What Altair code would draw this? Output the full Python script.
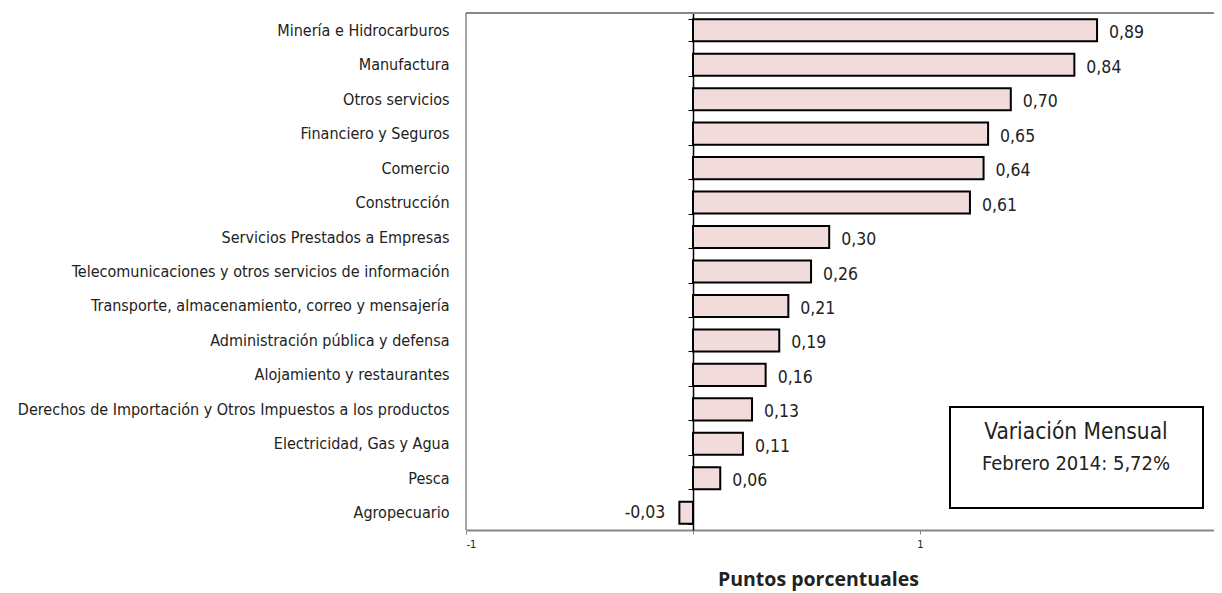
import altair as alt
import pandas as pd

categories = [
    "Minería e Hidrocarburos",
    "Manufactura",
    "Otros servicios",
    "Financiero y Seguros",
    "Comercio",
    "Construcción",
    "Servicios Prestados a Empresas",
    "Telecomunicaciones y otros servicios de información",
    "Transporte, almacenamiento, correo y mensajería",
    "Administración pública y defensa",
    "Alojamiento y restaurantes",
    "Derechos de Importación y Otros Impuestos a los productos",
    "Electricidad, Gas y Agua",
    "Pesca",
    "Agropecuario",
]
values = [0.89, 0.84, 0.70, 0.65, 0.64, 0.61, 0.30, 0.26, 0.21, 0.19, 0.16, 0.13, 0.11, 0.06, -0.03]

x_ticks = [-0.5, 0.0, 0.5]
x_tick_labels = ["-1", "", "1"]

box_title = "Variación Mensual"
box_subtitle = "Febrero 2014: 5,72%"
x_title = "Puntos porcentuales"

FONT = "Liberation Sans Narrow, Arial Narrow, DejaVu Sans Condensed, sans-serif"
W, H = 748, 517

df = pd.DataFrame({"sector": categories, "valor": values})

label_expr = " : ".join(
    f"datum.value == {v} ? '{l}'" for v, l in zip(x_ticks, x_tick_labels)
) + " : ''"

x_enc = alt.X(
    "valor:Q",
    scale=alt.Scale(domain=[-0.5, -0.5 + W / 454.0], nice=False, zero=False),
    axis=alt.Axis(
        values=x_ticks,
        labelExpr=label_expr,
        grid=False,
        domainColor="#868686",
        domainWidth=2,
        tickColor="#868686",
        tickSize=4,
        labelFont=FONT,
        labelFontSize=11,
        labelColor="#222222",
        labelPadding=4,
        title=x_title,
        titleFont="Open Sans",
        titleFontWeight="bold",
        titleFontSize=19.5,
        titleColor="#222222",
        titleX=352,
        titleY=55,
        titleAlign="center",
        titleBaseline="alphabetic",
    ),
)

y_enc = alt.Y(
    "sector:N",
    sort=categories,
    scale=alt.Scale(paddingInner=0.36, paddingOuter=0.18),
    axis=alt.Axis(
        title=None,
        offset=-227,
        tickBand="extent",
        domainColor="#000000",
        domainWidth=1.5,
        tickColor="#000000",
        tickSize=5,
        labelPadding=239,
        labelFont=FONT,
        labelFontSize=16,
        labelColor="#222222",
        labelLimit=600,
    ),
)

base = alt.Chart(df)

bars = base.mark_bar(fill="#F2DCDB", stroke="#000000", strokeWidth=2).encode(x=x_enc, y=y_enc)

txt_expr = "replace(replace(format(datum.valor, '.2f'), '.', ','), '\u2212', '-')"

pos_labels = (
    base.transform_filter("datum.valor >= 0")
    .transform_calculate(lbl=txt_expr)
    .mark_text(align="left", baseline="middle", dx=12, dy=3, font=FONT, fontSize=17.5, color="#222222")
    .encode(x="valor:Q", y=alt.Y("sector:N", sort=categories), text="lbl:N")
)
neg_labels = (
    base.transform_filter("datum.valor < 0")
    .transform_calculate(lbl=txt_expr)
    .mark_text(align="right", baseline="middle", dx=-14, dy=0, font=FONT, fontSize=17.5, color="#222222")
    .encode(x="valor:Q", y=alt.Y("sector:N", sort=categories), text="lbl:N")
)

one = alt.Data(values=[{"a": 1}])

top_border = alt.Chart(one).mark_rule(color="#868686", strokeWidth=2).encode(
    x=alt.value(0), x2=alt.value(W), y=alt.value(0)
)
left_border = alt.Chart(one).mark_rule(color="#868686", strokeWidth=1.5).encode(
    x=alt.value(0), y=alt.value(0), y2=alt.value(H)
)

box = alt.Chart(one).mark_rect(fill="white", stroke="#000000", strokeWidth=2).encode(
    x=alt.value(484), x2=alt.value(737), y=alt.value(394), y2=alt.value(495)
)
box_t1 = alt.Chart(one).mark_text(
    align="center", baseline="middle", font=FONT, fontSize=22.5, color="#222222", text=box_title
).encode(x=alt.value(610), y=alt.value(419))
box_t2 = alt.Chart(one).mark_text(
    align="center", baseline="middle", font=FONT, fontSize=20, color="#222222", text=box_subtitle
).encode(x=alt.value(610), y=alt.value(451))

chart = (
    alt.layer(top_border, left_border, bars, pos_labels, neg_labels, box, box_t1, box_t2)
    .properties(
        width=W,
        height=H,
        autosize=alt.AutoSizeParams(type="none"),
        padding={"left": 458, "top": 5, "right": 0, "bottom": 63},
    )
    .configure_view(stroke=None)
)

chart.save("out.html", embed_options={"renderer": "svg", "actions": False})
